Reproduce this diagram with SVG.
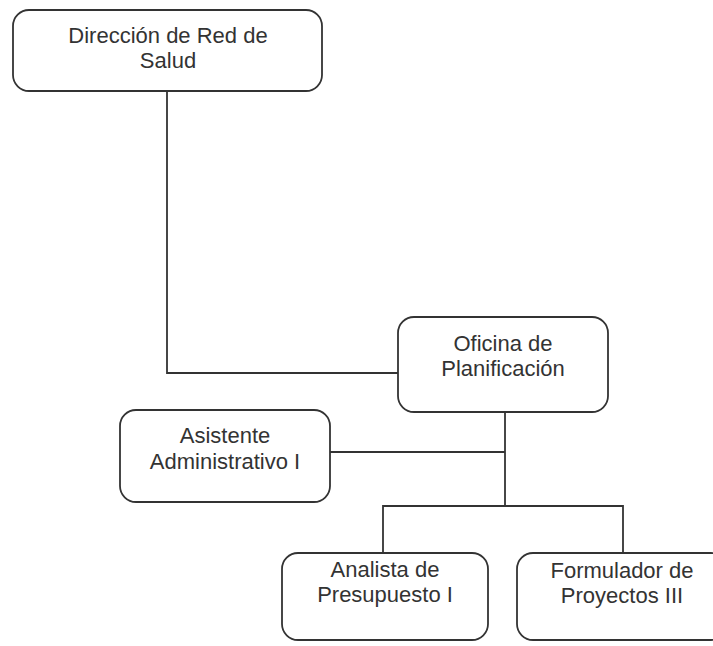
<svg xmlns="http://www.w3.org/2000/svg" width="713" height="646" viewBox="0 0 713 646">
<style>
.box{fill:#fff;stroke:#333;stroke-width:1.8}
.t{font-family:"Liberation Sans",Arial,sans-serif;font-size:22px;fill:#333;text-anchor:middle}
.c{fill:none;stroke:#333;stroke-width:1.8}
</style>
<rect width="713" height="646" fill="#fff"/>
<g id="connectors">
<path class="c" d="M167,91 V373 H398"/>
<path class="c" d="M505,412 V506"/>
<path class="c" d="M330,452 H505"/>
<path class="c" d="M383,553 V506 H623 V553"/>
</g>
<g id="direccion">
<rect class="box" x="13" y="10" width="309" height="81" rx="16"/>
<text class="t" x="168" y="43">Dirección de Red de</text>
<text class="t" x="168" y="68">Salud</text>
</g>
<g id="oficina">
<rect class="box" x="398" y="317" width="210" height="95" rx="16"/>
<text class="t" x="503" y="351">Oficina de</text>
<text class="t" x="503" y="376">Planificación</text>
</g>
<g id="asistente">
<rect class="box" x="120" y="410" width="210" height="92" rx="16"/>
<text class="t" x="225" y="443">Asistente</text>
<text class="t" x="225" y="469">Administrativo I</text>
</g>
<g id="analista">
<rect class="box" x="282" y="553" width="206" height="87" rx="16"/>
<text class="t" x="385" y="577">Analista de</text>
<text class="t" x="385" y="602">Presupuesto I</text>
</g>
<g id="formulador">
<rect class="box" x="517" y="553" width="210" height="87" rx="16"/>
<text class="t" x="622" y="578">Formulador de</text>
<text class="t" x="622" y="603">Proyectos III</text>
</g>
</svg>
